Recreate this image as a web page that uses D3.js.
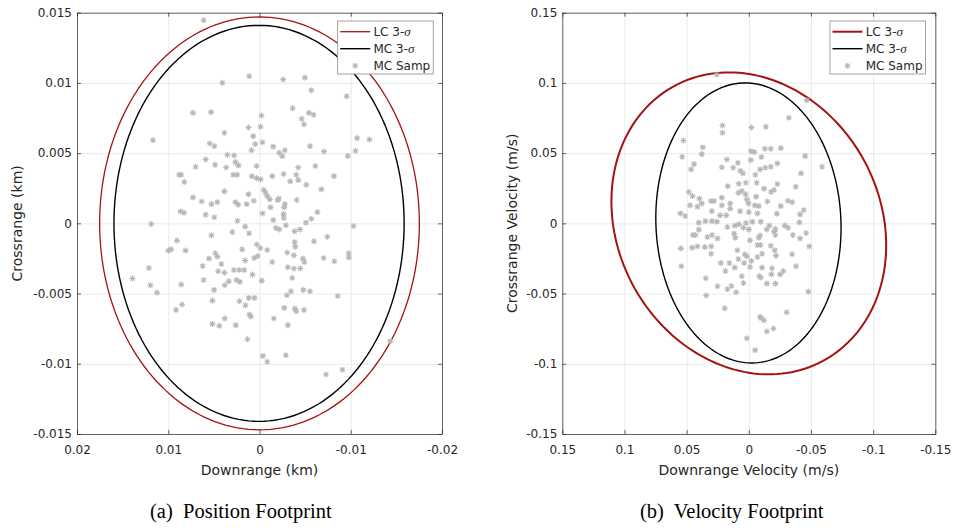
<!DOCTYPE html>
<html>
<head>
<meta charset="utf-8">
<script src="https://cdn.jsdelivr.net/npm/d3@7"></script>
<style>
  html, body { margin: 0; padding: 0; background: #fff; }
  svg { display: block; }
</style>
</head>
<body>
<div id="chart"></div>
<script>
// ---- data ----
const posTicksX = [0.02, 0.01, 0, -0.01, -0.02];
const posTicksY = [0.015, 0.01, 0.005, 0, -0.005, -0.01, -0.015];
const velTicksX = [0.15, 0.1, 0.05, 0, -0.05, -0.1, -0.15];
const velTicksY = [0.15, 0.1, 0.05, 0, -0.05, -0.1, -0.15];

const legendLabels = ["LC 3-", "MC 3-", "MC Samp"];

// 3-sigma contours: [centre x, centre y, 3σ x, 3σ y, correlation]
const posLc3Sigma = [0, 0, 0.01752, 0.0147, 0];
const posMc3Sigma = [0.00005, 0, 0.0159, 0.0141, 0];
const velLc3Sigma = [0, 0, 0.1105, 0.1075, 0.145];
const velMc3Sigma = [0.0003, 0.0003, 0.0745, 0.0997, 0.035];

// Monte Carlo samples, position (km): [downrange, crossrange]
const posSamples = [
  [0.00612, 0.01446], [0.00113, 0.01048], [-0.00260, 0.01024], [-0.00498, 0.01038], [0.00407, 0.01001],
  [-0.00568, 0.00948], [-0.00956, 0.00905], [0.00729, 0.00787], [0.00531, 0.00792], [-0.00022, 0.00768],
  [-0.00363, 0.00820], [-0.00462, 0.00745], [-0.00487, 0.00706], [-0.00542, 0.00787], [-0.00593, 0.00773],
  [0.00121, 0.00683], [-0.00011, 0.00688], [0.00385, 0.00645], [0.00069, 0.00621], [0.01168, 0.00592],
  [-0.01069, 0.00607], [-0.01205, 0.00597], [-0.00033, 0.00578], [0.00546, 0.00569], [0.00495, 0.00550],
  [0.00047, 0.00564], [-0.00151, 0.00546], [-0.00553, 0.00550], [0.00088, 0.00521], [-0.00278, 0.00521],
  [-0.00707, 0.00512], [-0.01052, 0.00517], [-0.00967, 0.00479], [0.00352, 0.00489], [0.00278, 0.00484],
  [-0.00216, 0.00503], [-0.00249, 0.00479], [0.00590, 0.00455], [0.00264, 0.00436], [0.00231, 0.00413],
  [0.00487, 0.00417], [0.00366, 0.00398], [0.00700, 0.00403], [0.00033, 0.00408], [-0.00425, 0.00398],
  [-0.00612, 0.00408], [0.00289, 0.00346], [0.00245, 0.00346], [0.00882, 0.00346], [0.00857, 0.00346],
  [0.00085, 0.00336], [0.00033, 0.00322], [-0.00011, 0.00313], [-0.00140, 0.00336], [-0.00264, 0.00351],
  [-0.00403, 0.00346], [-0.00816, 0.00336], [0.00824, 0.00294], [-0.00337, 0.00299], [-0.00425, 0.00308],
  [-0.00513, 0.00275], [0.00385, 0.00228], [-0.00047, 0.00237], [-0.00066, 0.00218], [-0.00678, 0.00242],
  [0.00729, 0.00185], [0.00634, 0.00156], [0.00527, 0.00137], [0.00462, 0.00151], [0.00121, 0.00208],
  [0.00063, 0.00161], [0.00264, 0.00151], [0.00234, 0.00133], [0.00140, 0.00137], [-0.00085, 0.00194],
  [-0.00113, 0.00171], [-0.00198, 0.00166], [-0.00212, 0.00176], [-0.00278, 0.00137], [-0.00407, 0.00166],
  [-0.00121, 0.00114], [-0.00271, 0.00114], [0.00865, 0.00085], [0.00827, 0.00076], [0.00590, 0.00062],
  [0.00495, 0.00043], [0.00242, 0.00019], [-0.00033, 0.00071], [-0.00264, 0.00066], [-0.00267, 0.00038],
  [-0.00634, 0.00080], [-0.00568, 0.00033], [-0.00151, 0.00023], [-0.00509, 0.00005], [0.01187, -0.00005],
  [0.00157, -0.00023], [-0.00179, -0.00033], [-0.00216, -0.00043], [-0.00289, -0.00014], [-0.00385, -0.00057],
  [-0.00443, -0.00043], [-0.01030, -0.00019], [0.00297, -0.00062], [0.00113, -0.00071], [0.00527, -0.00085],
  [0.00904, -0.00123], [-0.00744, -0.00095], [0.00997, -0.00194], [0.00970, -0.00185], [0.00810, -0.00194],
  [0.00190, -0.00185], [0.00030, -0.00151], [-0.00008, -0.00176], [-0.00085, -0.00190], [-0.00304, -0.00208],
  [-0.00385, -0.00133], [-0.00392, -0.00166], [-0.00597, -0.00128], [-0.00978, -0.00213], [-0.00978, -0.00242],
  [-0.00703, -0.00247], [-0.00821, -0.00270], [-0.00377, -0.00228], [-0.00476, -0.00251], [-0.00491, -0.00275],
  [0.00553, -0.00251], [0.00484, -0.00213], [0.00462, -0.00237], [0.00058, -0.00247], [0.00019, -0.00233],
  [0.00157, -0.00265], [0.00418, -0.00289], [0.00623, -0.00304], [-0.00140, -0.00275], [0.01212, -0.00318],
  [0.00282, -0.00332], [0.00223, -0.00332], [0.00168, -0.00332], [0.00454, -0.00341], [0.00385, -0.00351],
  [0.00077, -0.00365], [-0.00311, -0.00313], [-0.00377, -0.00322], [-0.00447, -0.00322], [-0.00359, -0.00389],
  [0.01392, -0.00393], [0.00612, -0.00403], [0.00337, -0.00413], [0.00253, -0.00403], [0.00216, -0.00417],
  [-0.00025, -0.00408], [0.00381, -0.00441], [0.01195, -0.00441], [0.00857, -0.00436], [0.01124, -0.00493],
  [0.00498, -0.00474], [0.00118, -0.00531], [0.00055, -0.00531], [0.00220, -0.00555], [0.00516, -0.00550],
  [-0.00480, -0.00474], [-0.00553, -0.00484], [-0.00344, -0.00484], [-0.00300, -0.00512], [-0.00857, -0.00517],
  [0.00154, -0.00583], [0.00849, -0.00578], [0.00915, -0.00617], [-0.00271, -0.00602], [-0.00388, -0.00607],
  [-0.00403, -0.00626], [-0.00487, -0.00617], [0.00110, -0.00649], [0.00096, -0.00664], [0.00381, -0.00678],
  [-0.00157, -0.00678], [0.00516, -0.00716], [0.00440, -0.00730], [0.00260, -0.00725], [-0.00311, -0.00725],
  [0.00132, -0.00825], [-0.01432, -0.00839], [-0.00036, -0.00944], [-0.00085, -0.00986], [-0.00289, -0.00939],
  [-0.00729, -0.01076], [-0.00909, -0.01043]
];

// Monte Carlo samples, velocity (m/s): [downrange, crossrange]
const velSamples = [
  [0.0257, 0.1058], [-0.0466, 0.0877], [-0.0322, 0.0752], [0.0212, 0.0697], [0.0212, 0.0645],
  [-0.0021, 0.0683], [-0.0137, 0.0688], [0.0526, 0.0590], [0.0536, 0.0474], [0.0370, 0.0541],
  [0.0378, 0.0493], [-0.0018, 0.0514], [-0.0045, 0.0507], [-0.0129, 0.0531], [-0.0177, 0.0531],
  [-0.0257, 0.0536], [-0.0101, 0.0472], [-0.0453, 0.0479], [-0.0589, 0.0403], [0.0440, 0.0422],
  [0.0464, 0.0384], [0.0217, 0.0400], [0.0177, 0.0455], [0.0126, 0.0396], [0.0088, 0.0432],
  [0.0068, 0.0375], [0.0048, 0.0356], [-0.0016, 0.0450], [-0.0053, 0.0346], [-0.0091, 0.0384],
  [-0.0133, 0.0396], [-0.0177, 0.0403], [-0.0230, 0.0427], [-0.0420, 0.0356], [0.0169, 0.0265],
  [0.0080, 0.0282], [0.0024, 0.0289], [-0.0064, 0.0289], [-0.0123, 0.0247], [-0.0179, 0.0223],
  [-0.0203, 0.0237], [-0.0230, 0.0280], [-0.0378, 0.0261], [0.0482, 0.0223], [0.0453, 0.0194],
  [0.0397, 0.0176], [0.0378, 0.0142], [0.0305, 0.0159], [0.0279, 0.0159], [0.0217, 0.0183],
  [0.0217, 0.0128], [0.0150, 0.0142], [0.0084, 0.0218], [0.0056, 0.0230], [0.0027, 0.0208],
  [0.0016, 0.0171], [0.0003, 0.0142], [-0.0059, 0.0190], [-0.0048, 0.0128], [-0.0080, 0.0123],
  [-0.0150, 0.0156], [-0.0257, 0.0123], [-0.0314, 0.0161], [-0.0348, 0.0151], [-0.0442, 0.0095],
  [0.0550, 0.0071], [0.0512, 0.0052], [0.0472, 0.0128], [0.0413, 0.0119], [0.0297, 0.0087],
  [0.0231, 0.0057], [0.0182, 0.0057], [0.0150, 0.0105], [0.0070, 0.0087], [0.0000, 0.0080],
  [-0.0069, 0.0071], [-0.0225, 0.0069], [-0.0412, 0.0064], [0.0402, 0.0005], [0.0349, 0.0016],
  [0.0297, 0.0016], [0.0257, 0.0012], [0.0172, -0.0026], [0.0113, -0.0016], [0.0080, -0.0007],
  [0.0043, -0.0031], [0.0022, 0.0002], [0.0000, -0.0043], [-0.0029, 0.0012], [-0.0096, 0.0012],
  [-0.0145, -0.0043], [-0.0166, -0.0016], [-0.0203, -0.0059], [-0.0214, -0.0041], [-0.0289, -0.0016],
  [-0.0316, -0.0031], [-0.0407, 0.0007], [-0.0461, -0.0069], [0.0402, -0.0045], [0.0450, -0.0083],
  [0.0429, -0.0083], [0.0333, -0.0097], [0.0295, -0.0083], [0.0252, -0.0107], [0.0118, -0.0073],
  [0.0108, -0.0102], [-0.0010, -0.0121], [-0.0080, -0.0102], [-0.0069, -0.0154], [-0.0093, -0.0154],
  [-0.0091, -0.0087], [-0.0214, -0.0083], [-0.0354, -0.0083], [-0.0412, -0.0107], [-0.0487, -0.0164],
  [0.0547, -0.0178], [0.0456, -0.0173], [0.0413, -0.0164], [0.0354, -0.0169], [0.0303, -0.0164],
  [0.0303, -0.0216], [0.0092, -0.0192], [0.0084, -0.0254], [0.0032, -0.0220], [0.0016, -0.0235],
  [-0.0069, -0.0240], [-0.0107, -0.0216], [-0.0177, -0.0159], [-0.0209, -0.0192], [-0.0219, -0.0230],
  [-0.0348, -0.0220], [0.0542, -0.0306], [0.0225, -0.0282], [0.0156, -0.0282], [0.0113, -0.0315],
  [0.0188, -0.0339], [0.0038, -0.0282], [-0.0021, -0.0268], [-0.0010, -0.0311], [-0.0107, -0.0315],
  [-0.0187, -0.0320], [-0.0182, -0.0363], [-0.0252, -0.0363], [-0.0278, -0.0339], [-0.0380, -0.0306],
  [-0.0085, -0.0377], [-0.0096, -0.0386], [0.0346, -0.0391], [0.0056, -0.0377], [0.0043, -0.0425],
  [-0.0145, -0.0429], [-0.0214, -0.0429], [0.0252, -0.0448], [0.0172, -0.0469], [0.0140, -0.0446],
  [0.0102, -0.0491], [0.0343, -0.0514], [-0.0479, -0.0486], [0.0193, -0.0605], [-0.0305, -0.0633],
  [-0.0091, -0.0666], [-0.0101, -0.0676], [-0.0123, -0.0690], [-0.0198, -0.0749], [-0.0145, -0.0770],
  [0.0016, -0.0818], [-0.0051, -0.0903]
];

// ---- drawing ----
const width = 953;
const height = 531;
const lcColor = "#a51212";
const mcColor = "#000000";
const sampColor = "#b8b8b8";
const axisColor = "#262626";
const gridColor = "#e6e6e6";
const sansFont = "'DejaVu Sans', sans-serif";

const svg = d3.select("#chart")
    .append("svg")
    .attr("width", width)
    .attr("height", height)
    .attr("viewBox", `0 0 ${width} ${height}`);

svg.append("rect").attr("width", width).attr("height", height).attr("fill", "#fff");

// contour points of a 3-sigma ellipse from its centre, extents and correlation
function contour(params) {
    const [cx, cy, sx, sy, rho] = params;
    return d3.range(0, 361, 2).map(deg => {
        const t = deg * Math.PI / 180;
        return [cx + sx * Math.cos(t), cy + sy * (rho * Math.cos(t) + Math.sqrt(1 - rho * rho) * Math.sin(t))];
    });
}

function asterisk(r) {
    const d = r * 0.72;
    return `M0,${-r}V${r}M${-r},0H${r}M${-d},${-d}L${d},${d}M${-d},${d}L${d},${-d}`;
}

function drawPanel(cfg) {
    const x = d3.scaleLinear().domain(cfg.xDomain).range([cfg.left, cfg.right]);
    const y = d3.scaleLinear().domain(cfg.yDomain).range([cfg.bottom, cfg.top]);
    const w = cfg.right - cfg.left;
    const h = cfg.bottom - cfg.top;
    const g = svg.append("g");

    const clipId = `clip-${cfg.id}`;
    g.append("clipPath").attr("id", clipId)
        .append("rect")
        .attr("x", cfg.left).attr("y", cfg.top).attr("width", w).attr("height", h);

    // grid
    g.append("g")
        .attr("transform", `translate(0, ${cfg.bottom})`)
        .call(d3.axisBottom(x).tickValues(cfg.xTicks).tickSize(-h).tickFormat(""))
        .call(s => s.select(".domain").remove())
        .call(s => s.selectAll(".tick line").attr("stroke", gridColor).attr("stroke-width", 0.8));
    g.append("g")
        .attr("transform", `translate(${cfg.left}, 0)`)
        .call(d3.axisLeft(y).tickValues(cfg.yTicks).tickSize(-w).tickFormat(""))
        .call(s => s.select(".domain").remove())
        .call(s => s.selectAll(".tick line").attr("stroke", gridColor).attr("stroke-width", 0.8));

    // contours
    const line = d3.line().x(d => x(d[0])).y(d => y(d[1]));
    const plot = g.append("g").attr("clip-path", `url(#${clipId})`);
    plot.append("path")
        .attr("d", line(contour(cfg.lc)))
        .attr("fill", "none")
        .attr("stroke", lcColor)
        .attr("stroke-width", cfg.lcWidth);
    plot.append("path")
        .attr("d", line(contour(cfg.mc)))
        .attr("fill", "none")
        .attr("stroke", mcColor)
        .attr("stroke-width", cfg.mcWidth);

    // samples
    plot.append("g")
        .selectAll("path")
        .data(cfg.samples)
        .join("path")
        .attr("transform", d => `translate(${x(d[0])}, ${y(d[1])})`)
        .attr("d", asterisk(3))
        .attr("fill", "none")
        .attr("stroke", sampColor)
        .attr("stroke-width", 1.1);

    // axes with inside ticks, mirrored on top / right
    const styleAxis = s => {
        s.select(".domain").attr("stroke", axisColor).attr("stroke-width", 0.7);
        s.selectAll(".tick line").attr("stroke", axisColor).attr("stroke-width", 0.7);
        s.selectAll(".tick text")
            .attr("fill", axisColor)
            .style("font-family", sansFont)
            .style("font-size", "12px");
    };
    g.append("g")
        .attr("transform", `translate(0, ${cfg.bottom})`)
        .call(d3.axisBottom(x).tickValues(cfg.xTicks).tickSizeInner(-4).tickSizeOuter(0).tickPadding(11.5).tickFormat(d => String(d)))
        .call(styleAxis);
    g.append("g")
        .attr("transform", `translate(0, ${cfg.top})`)
        .call(d3.axisTop(x).tickValues(cfg.xTicks).tickSizeInner(-4).tickSizeOuter(0).tickFormat(""))
        .call(styleAxis);
    g.append("g")
        .attr("transform", `translate(${cfg.left}, 0)`)
        .call(d3.axisLeft(y).tickValues(cfg.yTicks).tickSizeInner(-4).tickSizeOuter(0).tickPadding(5).tickFormat(d => String(d)))
        .call(styleAxis);
    g.append("g")
        .attr("transform", `translate(${cfg.right}, 0)`)
        .call(d3.axisRight(y).tickValues(cfg.yTicks).tickSizeInner(-4).tickSizeOuter(0).tickFormat(""))
        .call(styleAxis);

    // axis labels
    g.append("text")
        .attr("x", (cfg.left + cfg.right) / 2)
        .attr("y", 475)
        .attr("text-anchor", "middle")
        .attr("fill", axisColor)
        .style("font-family", sansFont)
        .style("font-size", "14px")
        .text(cfg.xLabel);
    g.append("text")
        .attr("transform", `translate(${cfg.yLabelX}, ${(cfg.top + cfg.bottom) / 2}) rotate(-90)`)
        .attr("text-anchor", "middle")
        .attr("fill", axisColor)
        .style("font-family", sansFont)
        .style("font-size", "14px")
        .text(cfg.yLabel);

    // legend
    const lg = g.append("g").attr("transform", `translate(${cfg.legendX}, 21)`);
    lg.append("rect")
        .attr("width", 95.5).attr("height", 53)
        .attr("fill", "#fff")
        .attr("stroke", "#8a8a8a")
        .attr("stroke-width", 0.8);
    const rows = lg.selectAll("g.row")
        .data(legendLabels)
        .join("g")
        .attr("class", "row")
        .attr("transform", (d, i) => `translate(0, ${10.7 + i * 17})`);
    rows.filter((d, i) => i < 2).append("line")
        .attr("x1", 2.5).attr("x2", 32.5)
        .attr("stroke", (d, i) => i === 0 ? lcColor : mcColor)
        .attr("stroke-width", (d, i) => i === 0 ? cfg.lcWidth : cfg.mcWidth);
    rows.filter((d, i) => i === 2).append("path")
        .attr("transform", "translate(17.5, 0)")
        .attr("d", asterisk(3))
        .attr("fill", "none")
        .attr("stroke", sampColor)
        .attr("stroke-width", 1.1);
    const labels = rows.append("text")
        .attr("x", 35.7)
        .attr("y", 4.3)
        .attr("fill", axisColor)
        .style("font-family", sansFont)
        .style("font-size", "12px")
        .text(d => d);
    labels.filter((d, i) => i < 2).append("tspan")
        .style("font-family", "'Liberation Serif', serif")
        .style("font-style", "italic")
        .style("font-size", "13px")
        .text("σ");

    // caption
    svg.append("text")
        .attr("x", cfg.captionX)
        .attr("y", 518)
        .attr("fill", "#000")
        .style("font-family", "'Liberation Serif', serif")
        .style("font-size", "20.5px")
        .style("white-space", "pre")
        .text(cfg.caption);
}

drawPanel({
    id: "pos",
    left: 77, right: 442, top: 12.7, bottom: 434,
    xDomain: [0.02, -0.02], yDomain: [-0.015, 0.015],
    xTicks: posTicksX, yTicks: posTicksY,
    lc: posLc3Sigma, mc: posMc3Sigma, lcWidth: 1.3, mcWidth: 1.4,
    samples: posSamples,
    xLabel: "Downrange (km)", yLabel: "Crossrange (km)", yLabelX: 22,
    legendX: 337.7,
    caption: "(a)  Position Footprint", captionX: 150
});

drawPanel({
    id: "vel",
    left: 562.3, right: 935.3, top: 12.7, bottom: 434,
    xDomain: [0.15, -0.15], yDomain: [-0.15, 0.15],
    xTicks: velTicksX, yTicks: velTicksY,
    lc: velLc3Sigma, mc: velMc3Sigma, lcWidth: 2, mcWidth: 1.4,
    samples: velSamples,
    xLabel: "Downrange Velocity (m/s)", yLabel: "Crossrange Velocity (m/s)", yLabelX: 517,
    legendX: 830,
    caption: "(b)  Velocity Footprint", captionX: 640
});
</script>
</body>
</html>
